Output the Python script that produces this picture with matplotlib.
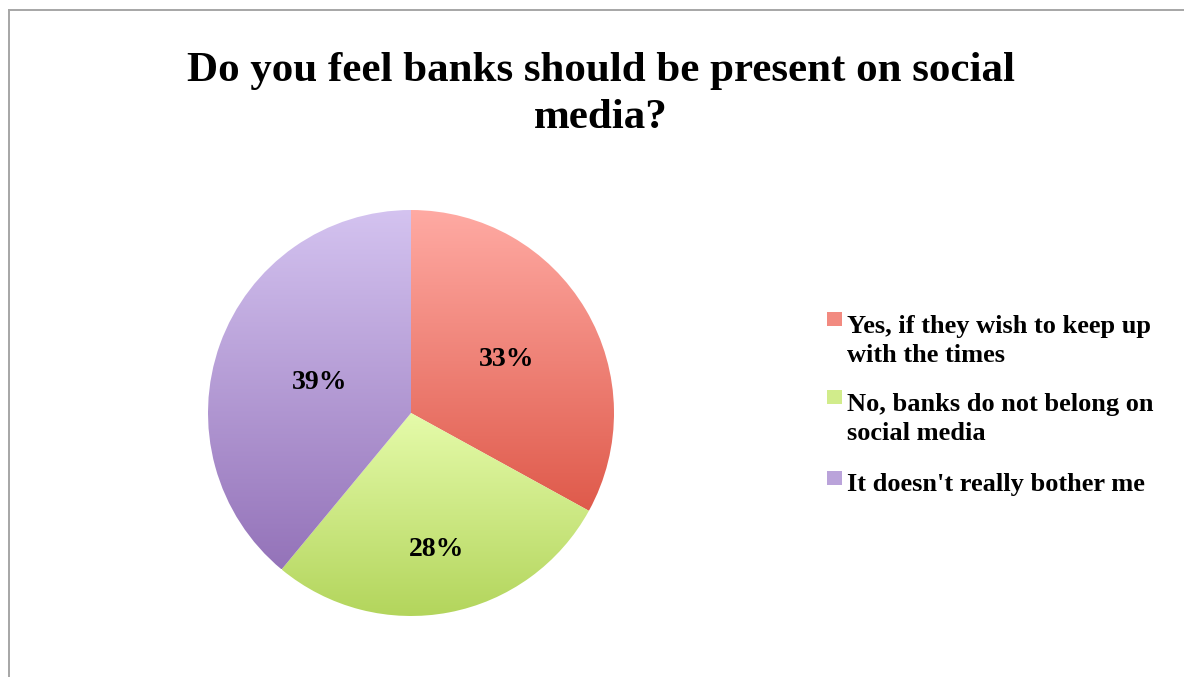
import matplotlib
matplotlib.use("Agg")
import matplotlib.pyplot as plt
import numpy as np
from matplotlib.colors import LinearSegmentedColormap, to_rgb
from matplotlib.lines import Line2D
from matplotlib.patches import Rectangle

# --- data ---
answers = [
    "Yes, if they wish to keep up\nwith the times",
    "No, banks do not belong on\nsocial media",
    "It doesn't really bother me",
]
shares = [33, 28, 39]

# top / bottom colours of each slice's vertical gradient
top_colors = ["#ffaaa3", "#e5fbaa", "#d4c3f0"]
bottom_colors = ["#df5a4b", "#b3d55c", "#9473b9"]
# how far out (fraction of radius) each percentage sits
label_dist = [0.55, 0.67, 0.48]

title = "Do you feel banks should be present on social\nmedia?"

W, H = 1184, 677
fig = plt.figure(figsize=(W / 100, H / 100), dpi=100)
serif = ["Liberation Serif", "DejaVu Serif"]

# frame around the chart area (only left and top edges fall inside the image)
fig.add_artist(Line2D([9 / W, 9 / W], [0, 1 - 10 / H], transform=fig.transFigure,
                      color="#a6a6a6", linewidth=1.4))
fig.add_artist(Line2D([9 / W, 1], [1 - 10 / H, 1 - 10 / H], transform=fig.transFigure,
                      color="#a6a6a6", linewidth=1.4))

# va="baseline" pins the last line's baseline
fig.text(601 / W, 1 - 128 / H, title, ha="center", va="baseline", fontsize=31,
         fontweight="bold", family=serif, linespacing=1.3)

# pie axes: centre (411, 413) px, radius 203 px
cx, cy, r = 411, 413, 203
ax = fig.add_axes([(cx - r) / W, (H - cy - r) / H, 2 * r / W, 2 * r / H])
wedges, _ = ax.pie(shares, startangle=90, counterclock=False, radius=1,
                   wedgeprops=dict(linewidth=0))
ax.set_aspect("equal")
ax.axis("off")

# replace flat fills with a vertical gradient clipped to each wedge
for w, c0, c1, share, d in zip(wedges, top_colors, bottom_colors, shares, label_dist):
    ext = w.get_path().get_extents()
    cmap = LinearSegmentedColormap.from_list("g", [c1, c0])
    grad = np.linspace(0, 1, 256).reshape(-1, 1)
    im = ax.imshow(grad, cmap=cmap, origin="lower", aspect="auto",
                   extent=[ext.x0, ext.x1, ext.y0, ext.y1], zorder=w.get_zorder())
    im.set_clip_path(w)
    w.set_facecolor("none")

    mid = np.deg2rad((w.theta1 + w.theta2) / 2)
    ax.text(d * np.cos(mid), d * np.sin(mid), f"{share}%", ha="center",
            va="center_baseline", fontsize=20, fontweight="bold", family=serif, zorder=5)
ax.set_xlim(-1, 1)
ax.set_ylim(-1, 1)

# legend: square marker beside the first line of each entry
first_baselines = [332, 410, 491]
line_step = 30
for label, col0, col1, y in zip(answers, top_colors, bottom_colors, first_baselines):
    swatch = (np.array(to_rgb(col0)) * 0.6 + np.array(to_rgb(col1)) * 0.4)
    fig.add_artist(Rectangle((827 / W, 1 - (y - 6) / H), 15 / W, 14 / H,
                             transform=fig.transFigure, facecolor=swatch,
                             edgecolor="none"))
    last = y + line_step * label.count("\n")
    fig.text(847 / W, 1 - last / H, label, ha="left", va="baseline", fontsize=19,
             fontweight="bold", family=serif, linespacing=1.35)

fig.savefig("out.png", dpi=100)
